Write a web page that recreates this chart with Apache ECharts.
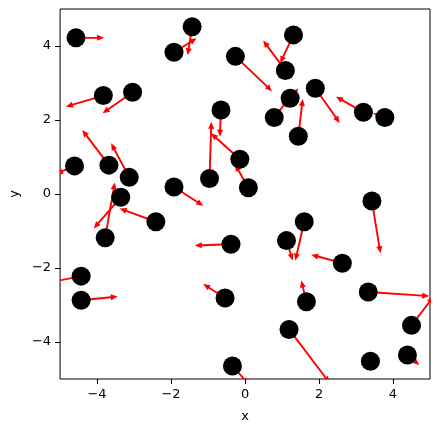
<!DOCTYPE html>
<html>
<head>
<meta charset="utf-8">
<script src="https://cdn.jsdelivr.net/npm/echarts@6/dist/echarts.min.js"></script>
<style>html,body{margin:0;padding:0;background:#fff;}#c{width:439px;height:432px;}</style>
</head>
<body>
<div id="c"></div>
<script>
// Point positions
const xs = [-4.57,-1.43,-1.92,-0.26,1.31,1.09,-3.83,-3.04,-0.65,1.90,1.22,0.79,3.20,3.78,1.44,-4.61,-3.68,-3.13,-0.96,-0.14,0.09,-1.92,-3.36,3.43,-3.78,-2.41,1.60,1.12,-0.38,2.63,-4.43,-4.43,-0.54,1.66,3.33,4.50,1.19,-0.34,3.39,4.39];
const ys = [4.22,4.52,3.83,3.72,4.30,3.34,2.66,2.75,2.27,2.86,2.59,2.07,2.21,2.07,1.56,0.76,0.78,0.45,0.42,0.94,0.17,0.19,-0.09,-0.19,-1.18,-0.75,-0.75,-1.26,-1.36,-1.87,-2.22,-2.87,-2.81,-2.91,-2.65,-3.55,-3.66,-4.65,-4.52,-4.35];
// Arrow components
const us = [0.76,-0.12,0.61,0.99,-0.36,-0.60,-1.01,-0.81,-0.03,0.66,0.22,0.37,-0.74,-0.32,0.12,-0.50,-0.72,-0.49,0.05,-0.78,-0.36,0.79,-0.73,0.23,0.26,-0.98,-0.24,0.17,-0.98,-0.84,-0.80,0.99,-0.59,-0.14,1.65,0.60,1.10,0.45,-0.26,0.32];
const vs = [0.00,-0.77,0.38,-0.94,-0.76,0.81,-0.30,-0.57,-0.72,-0.94,0.27,0.47,0.42,0.11,1.01,-0.22,0.95,0.92,1.53,0.70,0.63,-0.51,-0.84,-1.41,1.49,0.36,-1.05,-0.54,-0.03,0.23,-0.16,0.10,0.38,0.57,-0.11,0.78,-1.45,-0.50,-0.10,-0.27];
const ticks = [-4,-2,0,2,4];

const pts = xs.map((x,i)=>[x, ys[i]]);
const arrows = xs.map((x,i)=>[x, ys[i], us[i], vs[i]]);

function renderArrow(params, api) {
  const x = api.value(0), y = api.value(1), u = api.value(2), v = api.value(3);
  const p0 = api.coord([x, y]);
  const p1 = api.coord([x + u, y + v]);
  const dx = p1[0]-p0[0], dy = p1[1]-p0[1];
  const L = Math.hypot(dx, dy);
  if (L < 0.5) return null;
  const ux = dx/L, uy = dy/L, nx = -uy, ny = ux;
  const w = 0.95, hw = 3.0;
  let hl = 7;
  let s = 1;
  if (L < hl) { s = L/hl; hl = L; }
  const bx = p1[0] - ux*hl, by = p1[1] - uy*hl;
  const ww = w*s, hww = hw*s;
  const points = [
    [p0[0]+nx*ww, p0[1]+ny*ww],
    [bx+nx*ww, by+ny*ww],
    [bx+nx*hww, by+ny*hww],
    [p1[0], p1[1]],
    [bx-nx*hww, by-ny*hww],
    [bx-nx*ww, by-ny*ww],
    [p0[0]-nx*ww, p0[1]-ny*ww]
  ];
  return {type:'polygon', shape:{points}, style:{fill:'#ff0000', stroke:null}};
}

const fmt = v => String(v).replace('-', '\u2212');
const font = 'DejaVu Sans';

const chart = echarts.init(document.getElementById('c'), null, {renderer:'canvas'});
chart.setOption({
  animation: false,
  backgroundColor: '#fff',
  grid: {left:60, right:9, top:9, bottom:53, show:true, borderColor:'#000', borderWidth:1, backgroundColor:'transparent', containLabel:false},
  xAxis: {
    type:'value', min:-5, max:5,
    name:'x', nameLocation:'middle', nameGap:31,
    nameTextStyle:{color:'#000', fontSize:13, fontFamily:font},
    axisLine:{show:false, onZero:false},
    splitLine:{show:false},
    axisTick:{show:true, length:5, lineStyle:{color:'#000', width:1}, customValues:ticks},
    axisLabel:{color:'#000', fontSize:13, fontFamily:font, margin:9, formatter:fmt, customValues:ticks}
  },
  yAxis: {
    type:'value', min:-5, max:5,
    name:'y', nameLocation:'middle', nameGap:37,
    nameTextStyle:{color:'#000', fontSize:13, fontFamily:font},
    axisLine:{show:false, onZero:false},
    splitLine:{show:false},
    axisTick:{show:true, length:5, lineStyle:{color:'#000', width:1}, customValues:ticks},
    axisLabel:{color:'#000', fontSize:13, fontFamily:font, margin:9, formatter:fmt, customValues:ticks}
  },
  series: [
    {type:'custom', renderItem:renderArrow, data:arrows, clip:true, z:2, silent:true,
     encode:{x:0, y:1}},
    {type:'scatter', data:pts, symbol:'circle', symbolSize:19, itemStyle:{color:'#000', opacity:1}, z:3, silent:true}
  ]
});
</script>
</body>
</html>
